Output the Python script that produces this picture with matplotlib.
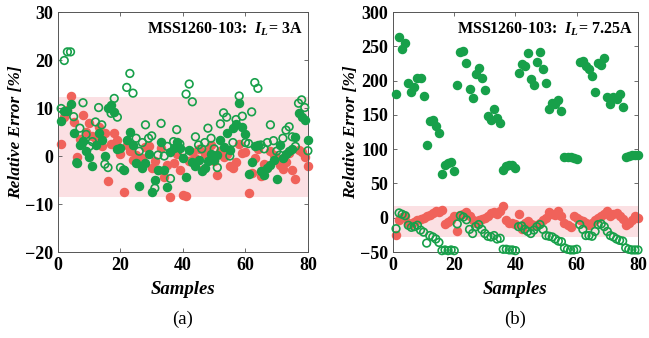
import numpy as np
import matplotlib
matplotlib.use('Agg')
import matplotlib.pyplot as plt

plt.rcParams['font.family'] = 'Liberation Serif'
plt.rcParams['mathtext.fontset'] = 'custom'
plt.rcParams['mathtext.rm'] = 'Liberation Serif:bold'
plt.rcParams['mathtext.it'] = 'Liberation Serif:italic:bold'

samples = np.arange(1, 81)

# panel (a): I_L = 3A
red_a = [2.6, 8.2, 9.5, 12.5, 7.1, -0.3, 3.5, 8.5, 5.0, 6.8,
         4.2, 3.5, 6.1, 2.0, 4.7, -5.3, 2.5, 4.7, 3.3, 0.4,
         -7.4, 2.3, 1.0, -0.8, 0.2, -1.5, -0.5, 1.8, 2.1, -2.6,
         -1.0, -2.9, 1.6, -4.3, -1.8, -8.5, -1.5, 0.5, -2.9, -8.1,
         -8.3, -1.0, 0.8, -0.5, 1.5, -3.0, 0.5, 1.3, 2.3, -1.0,
         -3.9, 1.1, -0.3, 0.5, -2.0, -2.6, -1.2, 2.6, 0.7, 0.9,
         -7.8, -3.6, -0.5, 1.5, -4.2, -1.7, -2.5, 1.1, 0.3, -0.5,
         -1.9, -2.8, -1.2, 0.6, -3.0, -4.7, 1.3, 0.8, -0.3, -2.1]
green_a = [7.2, 9.4, 9.4, 10.8, 4.7, -1.4, 2.3, 3.1, 1.0, -0.3,
           -2.1, 2.3, 4.9, 3.3, 0.0, 10.0, 10.6, 9.2, 1.4, 1.6,
           -2.9, 3.3, 5.1, 2.3, -1.4, -6.3, -2.6, -1.5, 0.5, -7.4,
           -4.9, -2.9, 3.0, -2.9, -6.4, 0.9, 1.6, 3.0, 1.6, -0.5,
           -4.3, 1.3, -1.2, -2.1, -0.8, -3.1, -2.4, -1.0, 0.5, -0.8,
           0.2, 3.3, 1.8, 4.7, 1.3, 5.8, 6.7, 11.0, 6.1, 4.6,
           -3.8, -1.2, 2.1, 2.3, -3.1, -4.0, -2.4, -1.9, -0.8, -4.7,
           2.3, -0.5, 0.5, 1.1, 1.4, 3.9, 8.9, 8.1, 7.6, 3.3]
open_a = [9.9, 19.9, 21.7, 21.7, 8.2, -1.4, 5.8, 11.1, 4.5, 2.0,
          3.0, 7.1, 10.1, 6.5, -1.7, -2.4, 8.9, 12.0, 8.1, -2.4,
          -2.9, 14.3, 17.2, 13.1, 3.7, 1.0, 2.8, 6.5, 3.7, 4.2,
          -6.7, 0.2, 6.8, 0.0, 2.0, -4.7, 3.0, 5.5, 2.5, 1.0,
          12.9, 15.0, 11.3, 4.0, 2.3, 1.5, 2.8, 5.8, 3.7, 1.5,
          -2.4, 6.7, 9.0, 8.1, 0.0, 2.8, 7.6, 12.5, 8.3, 2.8,
          2.6, 9.2, 15.3, 14.1, 2.3, 1.5, 2.8, 6.5, 3.2, 1.0,
          0.2, 3.7, 5.4, 6.1, 4.0, 2.0, 11.0, 11.7, 10.1, 1.1]

# panel (b): I_L = 7.25A
red_b = [-25, -3, 1, 3, -8, -9, -6, -4, -2, 0,
         2, 4, 7, 10, 8, 12, -9, -6, -3, 2,
         -20, 4, 6, 8, 3, -4, -8, -3, -2, 0,
         3, 7, 8, 6, 10, 17, -3, -7, -8, -9,
         5, -17, -8, -5, -9, -11, -10, -7, -4, -1,
         8, 6, 4, 10, 3, -8, -10, -13, 3, 0,
         -3, -5, -8, -10, -7, -4, -1, 2, 5, 10,
         3, 6, 7, 3, -2, -10, -8, -3, 3, 0]
green_b = [180, 263, 246, 255, 197, 183, 190, 204, 204, 177,
           106, 141, 143, 134, 124, 64, 77, 80, 82, 68,
           193, 241, 243, 225, 188, 175, 209, 219, 204, 186,
           148, 143, 159, 145, 138, 70, 75, 77, 77, 72,
           211, 224, 222, 240, 203, 193, 227, 241, 217, 197,
           159, 168, 166, 171, 156, 88, 89, 88, 87, 86,
           227, 229, 222, 217, 206, 183, 226, 223, 233, 176,
           166, 176, 173, 180, 162, 89, 90, 91, 91, 92]
open_b = [-16, 7, 5, 3, -11, -14, -13, -11, -18, -21,
          -37, -26, -28, -31, -36, -48, -47, -48, -47, -48,
          -9, 3, 1, -3, -17, -23, -13, -10, -17, -23,
          -27, -28, -26, -31, -30, -46, -46, -47, -47, -48,
          -13, -12, -17, -20, -23, -18, -13, -10, -17, -26,
          -27, -28, -31, -34, -35, -44, -46, -47, -47, -46,
          -10, -17, -26, -26, -27, -20, -10, -9, -13, -20,
          -26, -28, -31, -33, -34, -44, -46, -47, -47, -47]

red = '#F0625A'
green = '#17A04A'
band = '#FBE0E3'

fig = plt.figure(figsize=(6.49, 3.38), dpi=100)
ax1 = fig.add_axes([0.0894, 0.2544, 0.385, 0.710])
ax2 = fig.add_axes([0.6055, 0.2544, 0.3775, 0.710])


def draw(ax, red_v, green_v, open_v, band_lo, band_hi, ylim, yticks, title, sub):
    ax.axhspan(band_lo, band_hi, color=band, zorder=0, lw=0)
    ax.scatter(samples, red_v, s=34, color=red, zorder=2, clip_on=False)
    ax.scatter(samples, green_v, s=34, color=green, zorder=3, clip_on=False)
    ax.scatter(samples, open_v, s=30, facecolors='none', edgecolors=green,
               linewidths=1.2, zorder=4, clip_on=False)
    ax.set_xlim(0, 80)
    ax.set_ylim(*ylim)
    ax.set_xticks([0, 20, 40, 60, 80])
    ax.set_yticks(yticks)
    ax.tick_params(direction='in', top=True, right=True, length=3,
                   labelsize=13, width=0.6, colors='#555555',
                   labelcolor='black')
    for lab in ax.get_xticklabels() + ax.get_yticklabels():
        lab.set_fontweight('bold')
    for sp in ax.spines.values():
        sp.set_color('#555555')
        sp.set_linewidth(0.7)
    ax.set_xlabel('Samples', fontsize=13.5, fontweight='bold', style='italic', labelpad=5)
    ax.set_ylabel('Relative Error [%]', fontsize=12.5, fontweight='bold', style='italic', labelpad=1)
    ax.text(0.98, 0.965, title, transform=ax.transAxes, ha='right', va='top',
            fontsize=11.5, fontweight='bold')
    pos = ax.get_position()
    fig.text((pos.x0 + pos.x1) / 2, 0.055, sub, ha='center', va='center', fontsize=13.5)


draw(ax1, red_a, green_a, open_a, -8.5, 12.3, (-20, 30), [-20, -10, 0, 10, 20, 30],
     r'MSS1260-103:  $I_L$= 3A', '(a)')
draw(ax2, red_b, green_b, open_b, -28, 17, (-50, 300), [-50, 0, 50, 100, 150, 200, 250, 300],
     r'MSS1260-103:  $I_L$= 7.25A', '(b)')

fig.savefig('out.png', dpi=100)
